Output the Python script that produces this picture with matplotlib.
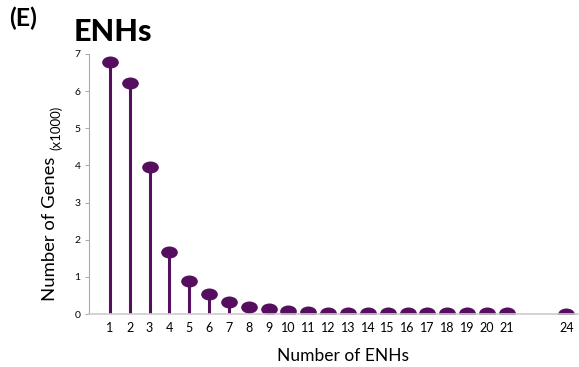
import matplotlib
matplotlib.use('Agg')
import matplotlib.pyplot as plt
from matplotlib.path import Path
from matplotlib.transforms import Affine2D

# number of ENHs per gene vs number of genes (thousands)
n_enh = [1, 2, 3, 4, 5, 6, 7, 8, 9, 10, 11, 12, 13, 14, 15, 16, 17, 18, 19, 20, 21, 24]
genes = [6.77, 6.23, 3.96, 1.67, 0.89, 0.54, 0.32, 0.19, 0.13, 0.08, 0.05, 0.04,
         0.03, 0.02, 0.02, 0.02, 0.02, 0.02, 0.02, 0.02, 0.02, 0.01]
xtick_labels = [str(v) for v in n_enh]
ytick_vals = [0, 1, 2, 3, 4, 5, 6, 7]

purple = '#560f5e'
plt.rcParams['font.family'] = ['Lato', 'DejaVu Sans']

# flattened ellipse marker
ellipse = Path.unit_circle().transformed(Affine2D().scale(1.0, 0.72))

fig = plt.figure(figsize=(5.79, 3.67), dpi=100)
ax = fig.add_axes([0.1537, 0.1444, 0.845, 0.7086])

ax.vlines(n_enh, 0, genes, color=purple, linewidth=2.2)
ax.plot(n_enh, genes, linestyle='none', marker=ellipse, markersize=12,
        color=purple, markeredgewidth=0)

ax.set_xlim(-0.05, 24.6)
ax.set_ylim(0, 7)
ax.set_xticks(n_enh)
ax.set_xticklabels(xtick_labels, fontsize=9)
ax.set_yticks(ytick_vals)
ax.set_yticklabels([str(v) for v in ytick_vals], fontsize=7.5)
ax.tick_params(axis='x', length=0, pad=6)
ax.tick_params(axis='y', length=3, width=0.6, color='#999999', pad=3)

for side in ['top', 'right']:
    ax.spines[side].set_visible(False)
ax.spines['left'].set_color('#aaaaaa')
ax.spines['left'].set_linewidth(0.8)
ax.spines['bottom'].set_color('#cccccc')
ax.spines['bottom'].set_linewidth(1.2)

fig.text(0.592, 0.030, 'Number of ENHs', fontsize=12.5, ha='center', va='center')
fig.text(0.086, 0.376, 'Number of Genes', rotation=90, fontsize=13.3,
         ha='center', va='center')
fig.text(0.097, 0.652, '(x1000)', rotation=90, fontsize=9.5,
         ha='center', va='center')

fig.text(0.016, 0.950, '(E)', fontsize=18, fontweight='bold', va='center')
fig.text(0.128, 0.912, 'ENHs', fontsize=22, fontweight='black', va='center')

fig.savefig('out.png', dpi=100)
